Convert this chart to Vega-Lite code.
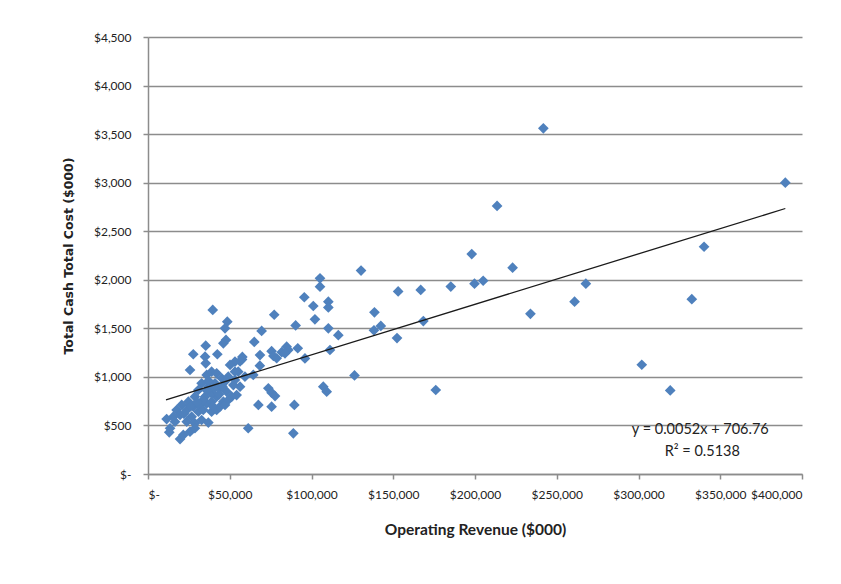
{
  "$schema": "https://vega.github.io/schema/vega-lite/v6.json",
  "width": 654,
  "height": 437,
  "autosize": "none",
  "padding": {"left": 148, "top": 37, "right": 39, "bottom": 110},
  "background": "white",
  "config": {
    "view": {"stroke": null},
    "axis": {
      "labelFont": "Lato",
      "labelFontSize": 12,
      "labelColor": "#222222",
      "titleFont": "Lato",
      "titleColor": "#222222",
      "domainColor": "#8c8c8c",
      "domainWidth": 1.5,
      "tickColor": "#8c8c8c",
      "tickWidth": 1.5,
      "gridColor": "#8c8c8c",
      "gridWidth": 1.5
    }
  },
  "datasets": {
    "points": [
      {"rev": 241800, "cost": 3560}, {"rev": 389800, "cost": 3000}, {"rev": 213500, "cost": 2760},
      {"rev": 340100, "cost": 2340}, {"rev": 198000, "cost": 2265}, {"rev": 223000, "cost": 2125},
      {"rev": 130300, "cost": 2095}, {"rev": 199700, "cost": 1960}, {"rev": 205000, "cost": 1990},
      {"rev": 267800, "cost": 1960}, {"rev": 185200, "cost": 1930}, {"rev": 166800, "cost": 1895},
      {"rev": 153000, "cost": 1880}, {"rev": 332600, "cost": 1800}, {"rev": 260900, "cost": 1775},
      {"rev": 233900, "cost": 1650}, {"rev": 168400, "cost": 1575}, {"rev": 152300, "cost": 1400},
      {"rev": 302000, "cost": 1125}, {"rev": 319400, "cost": 860}, {"rev": 176000, "cost": 865},
      {"rev": 126300, "cost": 1015}, {"rev": 138500, "cost": 1665}, {"rev": 138200, "cost": 1480},
      {"rev": 142400, "cost": 1525}, {"rev": 116400, "cost": 1430},
      {"rev": 105200, "cost": 2015}, {"rev": 105200, "cost": 1929}, {"rev": 95600, "cost": 1820},
      {"rev": 101100, "cost": 1730}, {"rev": 110300, "cost": 1775}, {"rev": 110300, "cost": 1715},
      {"rev": 102100, "cost": 1593}, {"rev": 77200, "cost": 1640}, {"rev": 90300, "cost": 1530},
      {"rev": 110300, "cost": 1500}, {"rev": 69500, "cost": 1473}, {"rev": 65000, "cost": 1360},
      {"rev": 57700, "cost": 1205}, {"rev": 56300, "cost": 1160}, {"rev": 68500, "cost": 1225},
      {"rev": 68400, "cost": 1115}, {"rev": 75600, "cost": 1265}, {"rev": 76700, "cost": 1215},
      {"rev": 78700, "cost": 1192}, {"rev": 81800, "cost": 1255}, {"rev": 84800, "cost": 1311},
      {"rev": 85800, "cost": 1277}, {"rev": 83800, "cost": 1243}, {"rev": 91600, "cost": 1295},
      {"rev": 96000, "cost": 1190}, {"rev": 111300, "cost": 1277}, {"rev": 55200, "cost": 1054},
      {"rev": 59300, "cost": 1002}, {"rev": 64400, "cost": 1020}, {"rev": 53200, "cost": 968},
      {"rev": 56300, "cost": 899}, {"rev": 54200, "cost": 813}, {"rev": 73600, "cost": 883},
      {"rev": 75600, "cost": 837}, {"rev": 77700, "cost": 803}, {"rev": 107200, "cost": 899},
      {"rev": 109300, "cost": 848}, {"rev": 67500, "cost": 711}, {"rev": 75600, "cost": 693},
      {"rev": 89500, "cost": 711}, {"rev": 61300, "cost": 471}, {"rev": 88900, "cost": 419},
      {"rev": 39600, "cost": 1689}, {"rev": 48500, "cost": 1568}, {"rev": 47100, "cost": 1500},
      {"rev": 47700, "cost": 1380}, {"rev": 46100, "cost": 1346}, {"rev": 35300, "cost": 1321},
      {"rev": 27700, "cost": 1233}, {"rev": 34900, "cost": 1208}, {"rev": 42400, "cost": 1233},
      {"rev": 35300, "cost": 1140}, {"rev": 25700, "cost": 1071}, {"rev": 35900, "cost": 1020},
      {"rev": 38900, "cost": 1054}, {"rev": 42000, "cost": 1037}, {"rev": 45100, "cost": 986},
      {"rev": 49100, "cost": 1002}, {"rev": 53200, "cost": 1054}, {"rev": 52200, "cost": 916},
      {"rev": 32800, "cost": 934}, {"rev": 30800, "cost": 865}, {"rev": 36900, "cost": 899},
      {"rev": 41000, "cost": 934}, {"rev": 44000, "cost": 883}, {"rev": 48100, "cost": 848},
      {"rev": 51200, "cost": 796}, {"rev": 46100, "cost": 745}, {"rev": 42000, "cost": 796},
      {"rev": 38900, "cost": 831}, {"rev": 34900, "cost": 796}, {"rev": 28700, "cost": 796},
      {"rev": 24700, "cost": 745}, {"rev": 20600, "cost": 711}, {"rev": 17500, "cost": 659},
      {"rev": 19600, "cost": 608}, {"rev": 23700, "cost": 659}, {"rev": 27700, "cost": 693},
      {"rev": 31800, "cost": 711}, {"rev": 35900, "cost": 728}, {"rev": 30800, "cost": 642},
      {"rev": 26700, "cost": 590}, {"rev": 23700, "cost": 539}, {"rev": 28700, "cost": 522},
      {"rev": 32800, "cost": 556}, {"rev": 36900, "cost": 530}, {"rev": 11400, "cost": 566},
      {"rev": 13500, "cost": 471}, {"rev": 13000, "cost": 429}, {"rev": 19600, "cost": 360},
      {"rev": 21600, "cost": 402}, {"rev": 25700, "cost": 436}, {"rev": 28700, "cost": 471},
      {"rev": 16500, "cost": 539}, {"rev": 15500, "cost": 590}, {"rev": 38900, "cost": 642},
      {"rev": 42000, "cost": 659}, {"rev": 44000, "cost": 693}, {"rev": 47100, "cost": 711},
      {"rev": 49100, "cost": 762}, {"rev": 38900, "cost": 745}, {"rev": 33800, "cost": 659},
      {"rev": 53200, "cost": 1157}, {"rev": 50200, "cost": 1123},
      {"rev": 37000, "cost": 960}, {"rev": 40500, "cost": 880}, {"rev": 43500, "cost": 820},
      {"rev": 33500, "cost": 760}, {"rev": 30000, "cost": 740}, {"rev": 45500, "cost": 900},
      {"rev": 39500, "cost": 700}, {"rev": 22000, "cost": 620}, {"rev": 26000, "cost": 700},
      {"rev": 47500, "cost": 960}, {"rev": 36000, "cost": 860}, {"rev": 57500, "cost": 1180}
    ],
    "trend": [
      {"rev": 11000, "cost": 764},
      {"rev": 389800, "cost": 2734}
    ],
    "notes": [
      {"label": "y = 0.0052x + 706.76"}
    ],
    "notes2": [
      {"label": "R² = 0.5138"}
    ]
  },
  "layer": [
    {
      "data": {"name": "points"},
      "mark": {"type": "point", "shape": "diamond", "filled": true, "size": 115, "color": "#4f81bd", "opacity": 1},
      "encoding": {
        "x": {
          "field": "rev", "type": "quantitative",
          "scale": {"domain": [0, 400000], "nice": false},
          "axis": {
            "values": [0, 50000, 100000, 150000, 200000, 250000, 300000, 350000, 400000],
            "labelExpr": "datum.value == 0 ? '$-' : '$' + format(datum.value, ',')",
            "grid": false, "tickSize": 5, "labelPadding": 10,
            "title": "Operating Revenue ($000)", "titleFontSize": 15.5, "titleFontWeight": "bold", "titlePadding": 22
          }
        },
        "y": {
          "field": "cost", "type": "quantitative",
          "scale": {"domain": [0, 4500], "nice": false},
          "axis": {
            "values": [0, 500, 1000, 1500, 2000, 2500, 3000, 3500, 4000, 4500],
            "labelExpr": "datum.value == 0 ? '$-' : '$' + format(datum.value, ',')",
            "grid": true, "tickSize": 5, "labelPadding": 12,
            "title": "Total Cash Total Cost ($000)", "titleFont": "DejaVu Sans", "titleFontSize": 12.5, "titleFontWeight": "bold", "titlePadding": 18
          }
        }
      }
    },
    {
      "data": {"name": "trend"},
      "mark": {"type": "line", "color": "#1a1a1a", "strokeWidth": 1.3},
      "encoding": {
        "x": {"field": "rev", "type": "quantitative"},
        "y": {"field": "cost", "type": "quantitative"}
      }
    },
    {
      "data": {"name": "notes"},
      "mark": {"type": "text", "font": "Lato", "fontSize": 14.5, "color": "#222222", "align": "center", "baseline": "middle"},
      "encoding": {
        "x": {"datum": 337800, "type": "quantitative"},
        "y": {"datum": 453, "type": "quantitative"},
        "text": {"field": "label"}
      }
    },
    {
      "data": {"name": "notes2"},
      "mark": {"type": "text", "font": "Lato", "fontSize": 14.5, "color": "#222222", "align": "center", "baseline": "middle"},
      "encoding": {
        "x": {"datum": 339000, "type": "quantitative"},
        "y": {"datum": 227, "type": "quantitative"},
        "text": {"field": "label"}
      }
    }
  ]
}
